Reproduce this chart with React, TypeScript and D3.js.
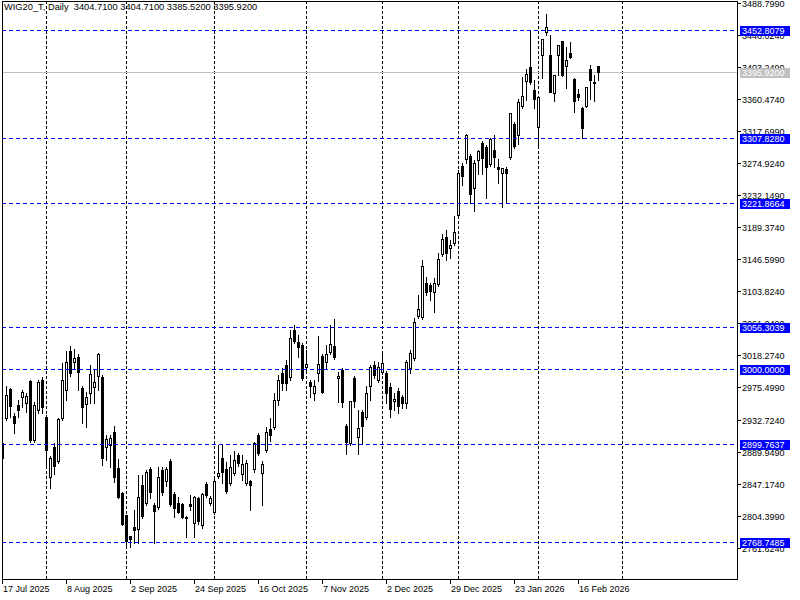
import React from 'react';
import * as d3 from 'd3';

const opens = [2901.4,2934.8,2973.5,2937.5,2952.1,2962.8,2954.8,2984.2,2905.4,2945.5,2985.5,2936.1,2856.1,2896.1,2877.4,2934.8,2972.2,3024.2,3009.5,3016.2,2974.8,2953.5,2968.2,2976.2,2990.9,2989.5,2896.1,2898.8,2916.1,2868.1,2834.7,2805.4,2777.3,2789.4,2786.7,2845.4,2821.4,2866.7,2818.7,2816.0,2865.4,2850.7,2877.4,2833.4,2821.4,2820.0,2802.7,2820.0,2794.7,2828.1,2792.0,2846.7,2821.4,2809.4,2857.4,2881.4,2866.7,2848.1,2861.4,2885.4,2860.1,2848.1,2850.7,2866.7,2912.1,2861.4,2892.1,2920.1,2922.8,2958.8,2994.9,3005.5,2989.5,3052.2,3036.2,3032.2,3002.9,2982.8,2968.2,2994.9,3017.5,3009.5,3022.9,3030.9,2988.2,2998.9,2924.1,2901.4,2988.2,2909.4,2942.8,2936.1,2977.5,3005.5,2985.5,2996.2,2994.9,2976.2,2957.5,2970.8,2962.8,2954.8,3001.5,3014.9,3070.9,3069.6,3114.9,3112.3,3102.9,3113.6,3153.6,3176.3,3161.7,3168.3,3205.7,3271.1,3280.4,3284.4,3241.7,3279.1,3301.8,3296.4,3273.7,3292.4,3269.7,3261.7,3267.1,3283.1,3327.1,3312.4,3351.1,3384.5,3403.2,3372.5,3323.1,3419.2,3449.9,3419.2,3368.5,3419.2,3437.9,3404.5,3421.9,3387.2,3367.2,3348.5,3351.1,3400.5,3383.2,3404.71];
const highs = [2905.4,2977.5,2974.8,2941.5,2958.8,2972.2,2968.2,2985.5,2956.2,2985.5,2989.5,2938.8,2884.1,2901.4,2934.8,3008.2,3024.2,3030.9,3026.9,3020.2,2977.5,2969.5,3005.5,2998.9,3021.5,2992.2,2912.1,2912.1,2924.1,2880.1,2836.1,2805.4,2777.3,2812.0,2858.7,2858.7,2865.4,2869.4,2821.4,2869.4,2869.4,2869.4,2880.1,2836.1,2829.4,2821.4,2804.0,2832.1,2830.7,2829.4,2834.7,2849.4,2830.7,2854.7,2898.8,2898.8,2876.1,2885.4,2890.8,2888.1,2885.4,2878.8,2852.1,2902.8,2914.8,2877.4,2922.8,2934.8,2968.2,2992.2,3001.5,3012.2,3052.2,3058.9,3045.6,3034.9,3025.5,2985.5,2985.5,3044.2,3020.2,3032.2,3058.9,3066.9,2996.2,3001.5,2926.8,2957.5,2990.9,2945.5,2945.5,2977.5,3005.5,3010.9,3009.5,3024.2,2997.5,2981.5,2968.2,2974.8,2965.5,3012.2,3025.5,3068.2,3098.9,3145.6,3123.0,3114.9,3121.6,3155.0,3180.3,3185.7,3172.3,3204.4,3265.7,3275.1,3313.8,3287.1,3279.1,3292.4,3304.4,3299.1,3308.4,3312.4,3280.4,3268.4,3269.7,3341.8,3329.8,3360.5,3389.8,3400.5,3452.8,3385.8,3363.1,3440.5,3473.9,3445.9,3392.5,3432.5,3437.9,3429.9,3436.5,3388.5,3373.8,3349.8,3376.5,3405.8,3392.5,3404.71];
const lows = [2878.8,2932.1,2936.1,2914.8,2936.1,2949.5,2942.8,2902.8,2902.8,2941.5,2941.5,2870.8,2841.4,2860.1,2874.8,2932.1,2958.8,2990.9,3000.2,2972.2,2928.1,2922.8,2954.8,2954.8,2972.2,2872.1,2878.8,2869.4,2849.4,2828.1,2792.0,2765.3,2762.0,2768.0,2768.0,2801.4,2818.7,2828.1,2768.0,2813.4,2832.1,2844.1,2817.4,2802.7,2808.0,2801.4,2776.0,2812.0,2776.0,2793.4,2788.0,2829.4,2818.7,2806.7,2854.7,2848.1,2834.7,2845.4,2858.7,2870.8,2852.1,2845.4,2812.0,2862.7,2885.4,2818.7,2889.4,2904.1,2920.1,2952.1,2972.2,2972.2,2985.5,3034.9,3016.2,2985.5,2996.2,2962.8,2958.8,2984.2,2968.2,3000.2,3020.2,3013.5,2956.2,2949.5,2886.8,2898.8,2949.5,2886.8,2900.1,2933.5,2958.8,2988.2,2982.8,2993.5,2954.8,2936.1,2945.5,2941.5,2948.1,2948.1,2994.9,3012.2,3068.2,3066.9,3098.9,3092.3,3076.3,3110.9,3151.0,3145.6,3148.3,3165.7,3203.0,3245.7,3275.1,3221.9,3211.0,3260.4,3260.4,3228.4,3270.7,3269.7,3248.4,3216.4,3221.7,3280.4,3295.1,3300.4,3348.5,3359.1,3380.5,3348.5,3295.1,3388.5,3445.9,3369.8,3357.8,3392.5,3391.2,3375.2,3415.2,3343.1,3359.1,3307.8,3349.8,3360.5,3357.8,3385.52];
const closes = [2881.4,2965.5,2950.8,2928.1,2945.5,2969.5,2964.2,2905.4,2952.1,2982.8,2949.5,2892.1,2881.4,2870.8,2933.5,2985.5,3009.5,2994.9,3014.9,2996.2,2949.5,2962.8,2993.5,2982.8,3020.2,2881.4,2906.8,2908.1,2856.1,2829.4,2793.4,2770.7,2773.3,2785.3,2829.4,2804.0,2862.7,2836.1,2810.7,2856.1,2836.1,2866.7,2820.0,2814.7,2809.4,2802.7,2801.4,2817.4,2829.4,2797.4,2833.4,2832.1,2828.1,2850.7,2861.4,2862.7,2837.4,2869.4,2878.8,2874.8,2873.4,2874.8,2845.4,2901.4,2888.1,2873.4,2916.1,2912.1,2958.8,2985.5,2981.5,2981.5,3041.6,3037.6,3029.5,2988.2,3006.9,2977.5,2977.5,3006.9,2969.5,3020.2,3033.5,3016.2,2990.9,2956.2,2902.8,2957.5,2957.5,2921.5,2924.1,2968.2,3002.9,2992.2,3002.9,3008.2,2968.2,2946.8,2960.2,2950.8,2954.8,3009.5,3021.5,3062.9,3080.3,3137.6,3102.9,3104.3,3114.9,3147.0,3173.7,3155.0,3165.7,3183.0,3261.7,3257.7,3312.4,3233.7,3275.1,3291.1,3281.7,3269.7,3307.1,3283.1,3267.1,3268.4,3261.7,3341.8,3297.8,3356.5,3364.5,3393.8,3383.2,3360.5,3363.1,3440.5,3456.6,3369.8,3392.5,3432.5,3392.5,3412.5,3416.5,3357.8,3363.1,3321.8,3376.5,3385.8,3381.8,3395.92];

const dateLabels = ['17 Jul 2025','8 Aug 2025','2 Sep 2025','24 Sep 2025','16 Oct 2025','7 Nov 2025','2 Dec 2025','29 Dec 2025','23 Jan 2026','16 Feb 2026'];
const dateLabelIndex = [0,16,32,48,64,80,96,112,128,144];
const monthStartIndex = [11,31,53,76,95,114,134,155];
const priceTicks = [3488.799,3446.024,3403.249,3360.474,3317.699,3274.924,3232.149,3189.374,3146.599,3103.824,3061.049,3018.274,2975.499,2932.724,2889.949,2847.174,2804.399,2761.624];
const levels = [3452.8079,3307.828,3221.8664,3056.3039,3000.0,2899.7637,2768.7485];
const lastPrice = 3395.92;
const headerText = 'WIG20_T, Daily  3404.7100 3404.7100 3385.5200 3395.9200';

const FONT = "'Liberation Sans', Arial, sans-serif";

export default function App() {
  const left = 2, right = 737, top = 1, bottom = 579;
  const xs = d3.scaleLinear().domain([0, 149]).range([2, 598]);
  const ys = d3.scaleLinear().domain([3360.474, 2804.399]).range([99, 515.7]);
  const candles = opens.map((o, i) => ({ o, h: highs[i], l: lows[i], c: closes[i], i }));
  const py = (v: number) => Math.round(ys(v));

  return (
    <svg width={800} height={600} style={{ position: 'absolute', left: 0, top: 0, background: '#fff' }} shapeRendering="crispEdges">
      <defs>
        <clipPath id="plot"><rect x={left} y={top} width={right - left} height={bottom - top} /></clipPath>
      </defs>
      <rect x={0} y={0} width={800} height={600} fill="#fff" />
      <g clipPath="url(#plot)">
        {monthStartIndex.map((m) => {
          const x = Math.round(xs(m)) + 0.5;
          return <line key={'g' + m} x1={x} x2={x} y1={top} y2={bottom} stroke="#000" strokeDasharray="3,2" />;
        })}
        <line x1={left} x2={right} y1={py(lastPrice) + 0.5} y2={py(lastPrice) + 0.5} stroke="#c0c0c0" />
        {candles.map((d) => {
          const col = Math.round(xs(d.i));
          const yH = py(Math.max(d.h, d.o, d.c));
          const yL = py(Math.min(d.l, d.o, d.c));
          const yT = py(Math.max(d.o, d.c));
          const yB = py(Math.min(d.o, d.c));
          const bull = d.c >= d.o;
          return (
            <g key={d.i}>
              <line x1={col + 0.5} x2={col + 0.5} y1={yH} y2={yL + 1} stroke="#000" />
              {bull ? (
                <rect x={col - 0.5} y={yT + 0.5} width={2} height={Math.max(yB - yT, 0)} fill="#fff" stroke="#000" />
              ) : (
                <rect x={col - 1} y={yT} width={3} height={Math.max(yB - yT + 1, 1)} fill="#000" />
              )}
            </g>
          );
        })}
        {levels.map((v) => {
          const y = py(v) + 0.5;
          return <line key={'l' + v} x1={left} x2={right} y1={y} y2={y} stroke="#0000ff" strokeDasharray="4,3" />;
        })}
      </g>
      <text x={4} y={10} fontFamily={FONT} fontSize={9.3} fill="#000" style={{ whiteSpace: 'pre' }}>{headerText}</text>
      <line x1={left + 0.5} x2={left + 0.5} y1={top} y2={bottom + 1} stroke="#000" />
      <line x1={left} x2={right} y1={top + 0.5} y2={top + 0.5} stroke="#000" />
      <line x1={left} x2={right + 1} y1={bottom + 0.5} y2={bottom + 0.5} stroke="#000" />
      <line x1={right + 0.5} x2={right + 0.5} y1={top} y2={bottom + 1} stroke="#000" />
      {priceTicks.map((v) => {
        const y = py(v) + 0.5;
        return (
          <g key={'t' + v}>
            <line x1={right} x2={right + 4} y1={y} y2={y} stroke="#000" />
            <text x={742} y={y + 3.5} fontFamily={FONT} fontSize={9} fill="#000">{v.toFixed(4)}</text>
          </g>
        );
      })}
      {levels.map((v) => {
        const y = py(v);
        return (
          <g key={'lb' + v}>
            <rect x={740} y={y - 4} width={50} height={10} fill="#0000ff" />
            <text x={742} y={y + 4} fontFamily={FONT} fontSize={9} fill="#fff">{v.toFixed(4)}</text>
          </g>
        );
      })}
      <g>
        <rect x={740} y={py(lastPrice) - 4} width={50} height={10} fill="#c0c0c0" />
        <text x={742} y={py(lastPrice) + 4} fontFamily={FONT} fontSize={9} fill="#fff">{lastPrice.toFixed(4)}</text>
      </g>
      {dateLabelIndex.map((idx, k) => {
        const x = Math.round(xs(idx)) + 0.5;
        return (
          <g key={'d' + idx}>
            <line x1={x} x2={x} y1={bottom} y2={bottom + 5} stroke="#000" />
            <text x={x + 0.5} y={592} fontFamily={FONT} fontSize={9} fill="#000">{dateLabels[k]}</text>
          </g>
        );
      })}
    </svg>
  );
}
